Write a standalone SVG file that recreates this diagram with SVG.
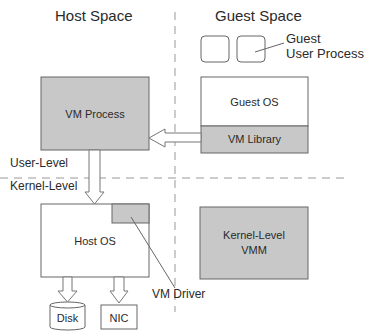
<svg xmlns="http://www.w3.org/2000/svg" width="368" height="333" viewBox="0 0 368 333">
<style>
text{font-family:"Liberation Sans",Arial,sans-serif;fill:#2a2a2a}
.box{stroke:#666;stroke-width:1}
.g{fill:#c8c8c8}
.w{fill:#fff}
.ar{fill:#fff;stroke:#777;stroke-width:1}
.dash{stroke:#999;stroke-width:1;stroke-dasharray:8,6;fill:none}
.ln{stroke:#666;stroke-width:1;fill:none}
.t11{font-size:11px}
.t12{font-size:12px}
.t13{font-size:13px}
.t15{font-size:15px}
</style>
<rect width="368" height="333" fill="#fff"/>
<g id="guides">
<line class="dash" x1="175" y1="12" x2="175" y2="312" stroke-dasharray="6,9"/>
<line class="dash" x1="0" y1="178" x2="348" y2="178"/>
<text class="t15" x="55" y="21">Host Space</text>
<text class="t15" x="215" y="21">Guest Space</text>
<text class="t12" x="10" y="167">User-Level</text>
<text class="t12" x="10" y="190">Kernel-Level</text>
</g>
<g id="guest-user-process">
<rect class="box w" x="201" y="36" width="28" height="26" rx="4" stroke="#888"/>
<rect class="box w" x="237" y="36" width="28" height="26" rx="4" stroke="#888"/>
<text class="t13" x="286" y="43">Guest</text>
<text class="t13" x="286" y="58">User Process</text>
</g>
<g id="vm-process">
<rect class="box g" x="41" y="77" width="108" height="73"/>
<text class="t11" x="95" y="118" text-anchor="middle">VM Process</text>
</g>
<g id="guest-os">
<rect class="box w" x="201" y="77" width="107" height="49"/>
<text class="t11" x="254.5" y="106" text-anchor="middle">Guest OS</text>
</g>
<g id="vm-library">
<rect class="box g" x="201" y="126" width="107" height="27"/>
<text class="t11" x="254.5" y="143" text-anchor="middle">VM Library</text>
</g>
<g id="host-os">
<rect class="box w" x="41" y="204" width="108" height="73"/>
<text class="t11" x="95" y="245" text-anchor="middle">Host OS</text>
</g>
<g id="vm-driver">
<rect class="box g" x="112" y="204" width="37" height="19"/>
<text class="t12" x="152" y="298">VM Driver</text>
</g>
<g id="kernel-vmm">
<rect class="box g" x="200" y="207" width="108" height="72"/>
<text class="t11" x="254" y="239" text-anchor="middle">Kernel-Level</text>
<text class="t11" x="254" y="254" text-anchor="middle">VMM</text>
</g>
<g id="disk">
<path class="box w" d="M50,305 L50,327 A17.5,3 0 0 0 85,327 L85,305"/>
<ellipse class="box w" cx="67.5" cy="305" rx="17.5" ry="3"/>
<text class="t11" x="67.5" y="322" text-anchor="middle">Disk</text>
</g>
<g id="nic">
<rect class="box w" x="101" y="305" width="36" height="24"/>
<text class="t11" x="119" y="322" text-anchor="middle">NIC</text>
</g>
<g id="connectors">
<polygon class="ar" points="201,133 165,133 165,129 149,138 165,147 165,142 201,142"/>
<polygon class="ar" points="89,150 100,150 100,192 104,192 94.5,204 85,192 89,192"/>
<polygon class="ar" points="63,277 72,277 72,291 77,291 67.5,302 58,291 63,291"/>
<polygon class="ar" points="114,277 124,277 124,291 128,291 119,303 110,291 114,291"/>
<line class="ln" x1="255" y1="52" x2="284" y2="43"/>
<line class="ln" x1="131" y1="217" x2="175" y2="288"/>
</g>
</svg>
